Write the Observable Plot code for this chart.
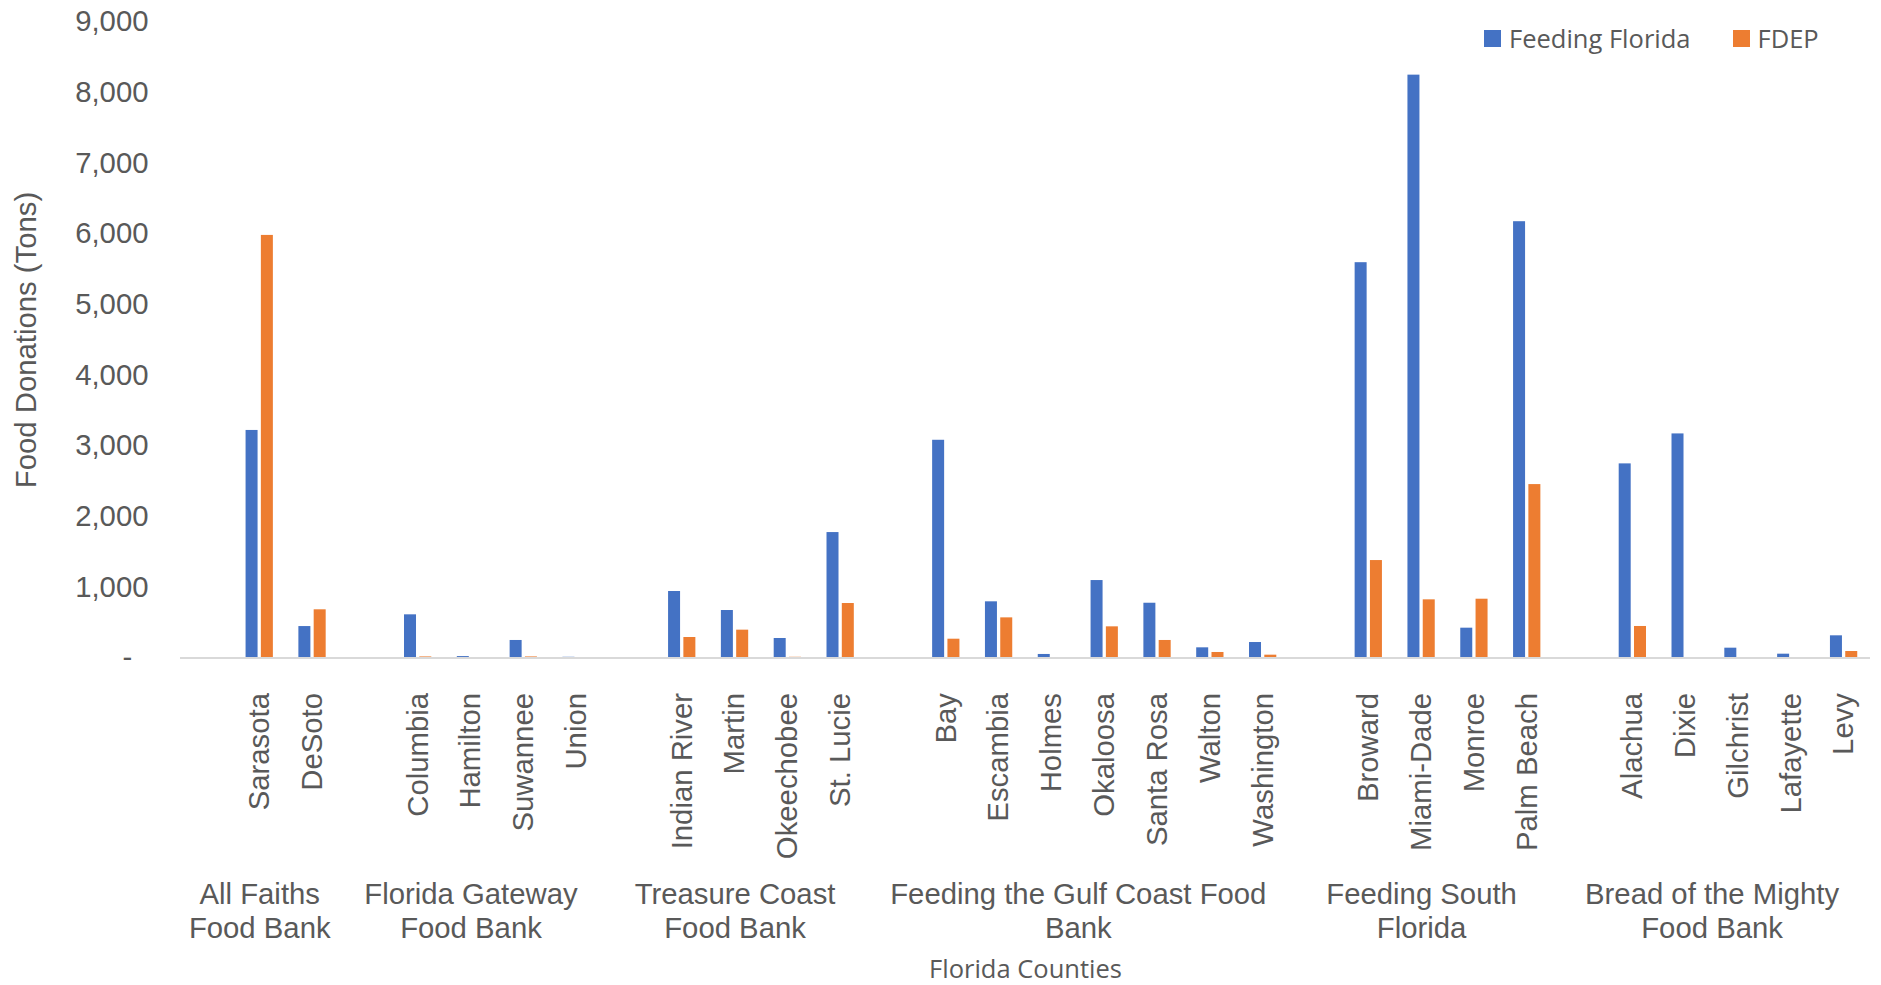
<!DOCTYPE html>
<html>
<head>
<meta charset="utf-8">
<script src="https://cdn.jsdelivr.net/npm/d3@7"></script>
<script src="https://cdn.jsdelivr.net/npm/@observablehq/plot@0.6"></script>
<style>
  body { margin: 0; background: white; }
  #wrap { position: relative; width: 1881px; height: 985px; }
  #legend { position: absolute; left: 1484px; top: 21px; display: flex; align-items: center;
            font-family: "Open Sans", sans-serif; font-size: 25.5px; color: #595959; }
  #legend .item { display: flex; align-items: center; margin-right: 42px; }
  #legend .sw { width: 17px; height: 17px; margin-right: 8px; display: inline-block; }
</style>
</head>
<body>
<div id="wrap"><div id="legend"></div></div>
<script>
// ---- data ----
const foodBanks = ["All Faiths\nFood Bank", "Florida Gateway\nFood Bank", "Treasure Coast\nFood Bank",
  "Feeding the Gulf Coast Food\nBank", "Feeding South\nFlorida", "Bread of the Mighty\nFood Bank"];
const counties = ["Sarasota","DeSoto","Columbia","Hamilton","Suwannee","Union","Indian River","Martin",
  "Okeechobee","St. Lucie","Bay","Escambia","Holmes","Okaloosa","Santa Rosa","Walton","Washington",
  "Broward","Miami-Dade","Monroe","Palm Beach","Alachua","Dixie","Gilchrist","Lafayette","Levy"];
const countyBank = [0,0,1,1,1,1,2,2,2,2,3,3,3,3,3,3,3,4,4,4,4,5,5,5,5,5];
const feedingFlorida = [3220,445,611,20,248,10,941,672,276,1775,3081,795,50,1096,775,144,219,5594,8248,422,6174,2747,3171,139,54,314];
const fdep = [5980,682,15,0,15,0,290,394,10,771,266,568,0,441,248,78,40,1379,823,832,2454,446,0,0,0,92];
const seriesNames = ["Feeding Florida", "FDEP"];
const seriesColors = ["#4472C4", "#ED7D31"];
const yTicks = [0,1000,2000,3000,4000,5000,6000,7000,8000,9000];

// ---- build slots: one blank slot before each food bank's counties ----
const slots = [];
const groups = foodBanks.map((name, g) => {
  const s = ["gap" + g, ...counties.filter((c, i) => countyBank[i] === g)];
  slots.push(...s);
  return {name, s};
});
const rows = counties.map((c, i) => ({county: c, ff: feedingFlorida[i], fdep: fdep[i]}));

const W = 1881, H = 985, mL = 180, mR = 11, mT = 21.5, mB = 327.5;
const bw = (W - mL - mR) / slots.length;
const barW = 12, half = 7.65;
const inset = (bw - barW) / 2;
const fs = 29.3;

const oddGroups = groups.filter(g => g.s.length % 2 === 1).map(g => ({name: g.name, mid: g.s[(g.s.length - 1) / 2]}));
const evenGroups = groups.filter(g => g.s.length % 2 === 0).map(g => ({name: g.name, mid: g.s[g.s.length / 2 - 1]}));

const font = '"Liberation Sans", Arial, sans-serif';
const chart = Plot.plot({
  width: W, height: H,
  marginLeft: mL, marginRight: mR, marginTop: mT, marginBottom: mB,
  style: {fontFamily: font, fontSize: fs + "px", color: "#595959", background: "white", overflow: "visible"},
  x: {type: "band", domain: slots, padding: 0, round: false, axis: null},
  y: {domain: [0, 9000], axis: null},
  marks: [
    Plot.axisY({ticks: yTicks, tickSize: 0, tickPadding: 32, label: null, fontSize: fs,
      tickFormat: d => d === 0 ? "-\u2007" : d3.format(",")(d)}),
    Plot.axisX({tickRotate: -90, tickSize: 0, tickPadding: 35, label: null, fontSize: fs,
      tickFormat: d => d.startsWith("gap") ? "" : d}),
    Plot.barY(rows, {x: "county", y: "ff", fill: seriesColors[0], insetLeft: inset, insetRight: inset, dx: -half}),
    Plot.barY(rows, {x: "county", y: "fdep", fill: seriesColors[1], insetLeft: inset, insetRight: inset, dx: half}),
    Plot.ruleY([0], {stroke: "#D9D9D9", strokeWidth: 2}),
    Plot.text(oddGroups, {x: "mid", text: "name", frameAnchor: "bottom", dy: 279.5, lineHeight: 1.147,
      fill: "#595959", fontSize: fs}),
    Plot.text(evenGroups, {x: "mid", text: "name", frameAnchor: "bottom", dy: 279.5, dx: bw / 2, lineHeight: 1.147,
      fill: "#595959", fontSize: fs}),
    Plot.text(["Food Donations (Tons)"], {frameAnchor: "left", textAnchor: "middle", rotate: -90, dx: -154,
      fill: "#595959", fontSize: fs}),
    Plot.text(["Florida Counties"], {frameAnchor: "bottom", dy: 320, fill: "#595959", fontSize: 25.5,
      fontFamily: '"Open Sans", sans-serif'})
  ]
});
const wrap = document.getElementById("wrap");
wrap.insertBefore(chart, wrap.firstChild);

const legend = document.getElementById("legend");
seriesNames.forEach((n, i) => {
  const item = document.createElement("div");
  item.className = "item";
  const sw = document.createElement("span");
  sw.className = "sw";
  sw.style.background = seriesColors[i];
  item.appendChild(sw);
  item.appendChild(document.createTextNode(n));
  legend.appendChild(item);
});
</script>
</body>
</html>
